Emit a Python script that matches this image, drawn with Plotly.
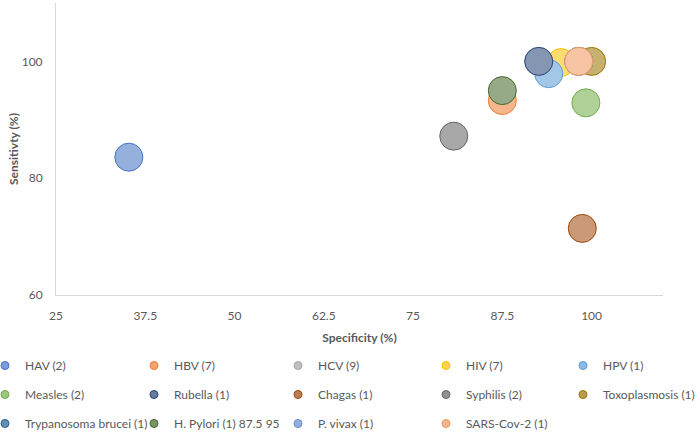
import plotly.graph_objects as go

names = ["HAV (2)", "HBV (7)", "HCV (9)", "HIV (7)", "HPV (1)",
         "Measles (2)", "Rubella (1)", "Chagas (1)", "Syphilis (2)", "Toxoplasmosis (1)",
         "Trypanosoma brucei (1)", "H. Pylori (1) 87.5 95", "P. vivax (1)", "SARS-Cov-2 (1)"]
specificity = [35.2, 87.5, 92.6, 95.7, 94.0, 99.2, 92.6, 98.7, 80.7, 100.0, 98.2, 87.5, 98.2, 98.2]
sensitivity = [83.6, 93.3, 100.0, 99.8, 97.9, 92.9, 100.0, 71.4, 87.2, 100.0, 100.0, 95.0, 100.0, 100.0]
colors = ["#4472C4", "#ED7D31", "#A5A5A5", "#FFC000", "#5B9BD5",
          "#70AD47", "#264478", "#9E480E", "#636363", "#997300",
          "#255E91", "#43682B", "#698ED0", "#F1975A"]
x_ticks = [25, 37.5, 50, 62.5, 75, 87.5, 100]
y_ticks = [60, 80, 100]


def tint(hexc, f=0.6):
    h = hexc.lstrip("#")
    r, g, b = (int(h[i:i + 2], 16) for i in (0, 2, 4))
    r, g, b = (round(c * f + 255 * (1 - f)) for c in (r, g, b))
    return f"rgb({r},{g},{b})"


FONT = "Lato, 'Open Sans', sans-serif"
GRAY = "#595959"
W, H = 700, 432
ML, MR, MT, MB = 56, 37, 3, 137
PLOT_W = W - ML - MR
LEGEND_IDS = ["legend", "legend2", "legend3", "legend4", "legend5"]
LEGEND_PX = [0, 149, 293, 441, 581]

fig = go.Figure()
for i, (n, x, y, c) in enumerate(zip(names, specificity, sensitivity, colors)):
    lid = LEGEND_IDS[i % 5]
    grp = f"g{i}"
    # bubble
    fig.add_trace(go.Scatter(
        x=[x], y=[y], mode="markers", name=n, legend=lid, legendgroup=grp,
        showlegend=False,
        marker=dict(size=28, color=tint(c, 0.56), line=dict(color=c, width=1)),
        cliponaxis=False,
    ))
    # small legend key
    fig.add_trace(go.Scatter(
        x=[None], y=[None], mode="markers", name=n, legend=lid, legendgroup=grp,
        showlegend=True,
        marker=dict(size=8, color=tint(c, 0.7), line=dict(color=c, width=1)),
    ))

legends = {}
for k, lid in enumerate(LEGEND_IDS):
    legends[lid] = dict(
        orientation="v", xref="paper", yref="container",
        x=(LEGEND_PX[k] - ML) / PLOT_W, xanchor="left", y=1 - 351 / H, yanchor="top",
        tracegroupgap=10, traceorder="grouped", indentation=-15,
        font=dict(family=FONT, size=12, color=GRAY), bgcolor="rgba(0,0,0,0)",
        itemclick=False, itemdoubleclick=False,
    )

fig.update_layout(
    width=W, height=H,
    margin=dict(l=ML, r=MR, t=MT, b=MB),
    paper_bgcolor="white", plot_bgcolor="white",
    font=dict(family=FONT, size=12, color=GRAY),
    xaxis=dict(
        range=[25, 110], tickvals=x_ticks, showgrid=False, zeroline=False,
        showline=True, linecolor="#D9D9D9", linewidth=1, ticks="",
        ticklabelstandoff=10,
        tickfont=dict(family=FONT, size=12, color=GRAY),
        title=dict(text="<b>Specificity (%)</b>", font=dict(family=FONT, size=12, color=GRAY), standoff=11),
    ),
    yaxis=dict(
        range=[60, 110], tickvals=y_ticks, showgrid=False, zeroline=False,
        showline=True, linecolor="#D9D9D9", linewidth=1, ticks="",
        ticklabelstandoff=10,
        tickfont=dict(family=FONT, size=12, color=GRAY),
        title=dict(text="<b>Sensitivty (%)</b>", font=dict(family=FONT, size=12, color=GRAY), standoff=0),
    ),
    **legends,
)

fig.write_html("out.html", config={"displayModeBar": False},
               post_script="document.body.style.margin='0';")
